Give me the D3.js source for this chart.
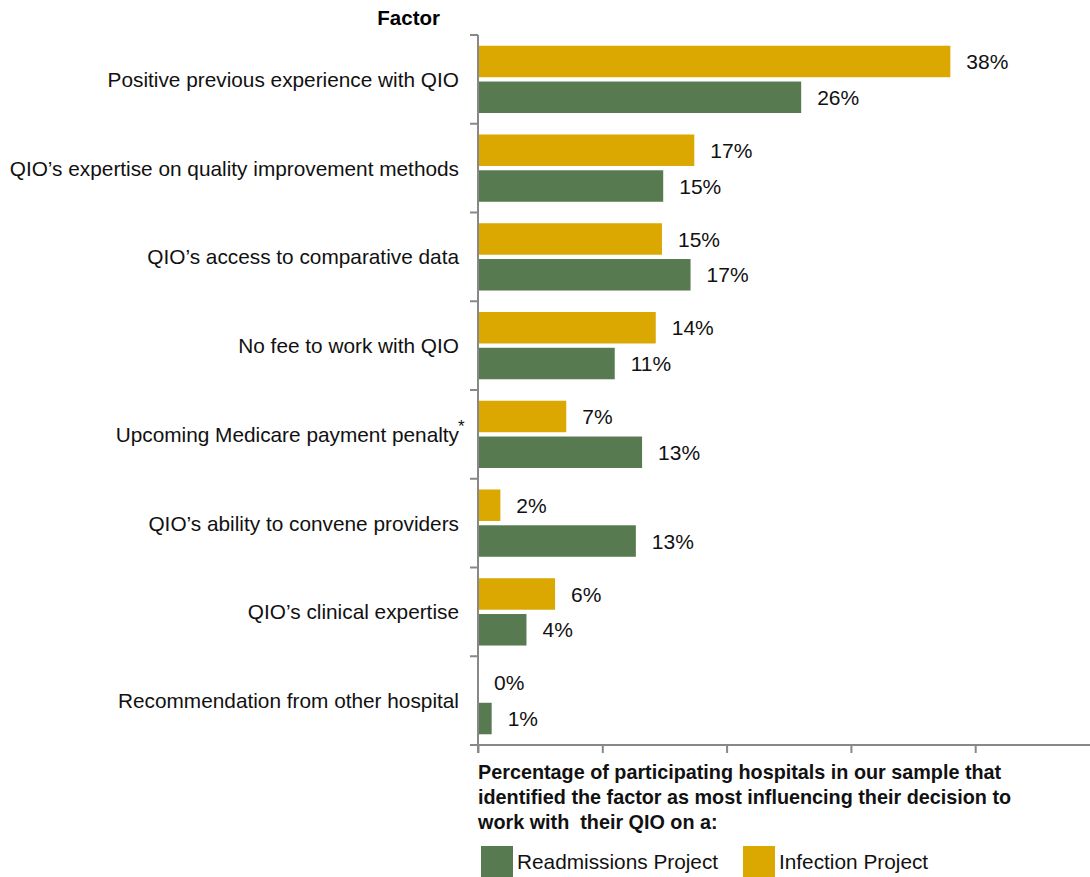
<!DOCTYPE html>
<html>
<head>
<meta charset="utf-8">
<script src="https://cdn.jsdelivr.net/npm/d3@7"></script>
<style>
	body { margin: 0; background: #fff; }
	svg { font-family: "Liberation Sans", Arial, sans-serif; }
	.axis path, .axis line { stroke: #888; stroke-width: 2; }
</style>
</head>
<body>
<div id="chart"></div>
<script>
// data
const factors = [
	'Positive previous experience with QIO',
	'QIO\u2019s expertise on quality improvement methods',
	'QIO\u2019s access to comparative data',
	'No fee to work with QIO',
	'Upcoming Medicare payment penalty',
	'QIO\u2019s ability to convene providers',
	'QIO\u2019s clinical expertise',
	'Recommendation from other hospital'
];
const infection = [38, 17.4, 14.8, 14.3, 7.1, 1.8, 6.2, 0];
const readmissions = [26, 14.9, 17.1, 11, 13.2, 12.7, 3.9, 1.1];
const xTicks = [0, 10, 20, 30, 40];
const seriesNames = ['Readmissions Project', 'Infection Project'];
const colors = { infection: '#daa800', readmissions: '#587a50' };

const width = 1090, height = 877;
const margin = { top: 35, left: 478, bottom: 132 };

const svg = d3.select('#chart').append('svg')
	.attr('width', width)
	.attr('height', height);

const x = d3.scaleLinear()
	.domain([0, 50])
	.range([margin.left, margin.left + 50 * 12.43]);

const y = d3.scaleBand()
	.domain(factors)
	.range([margin.top, height - margin.bottom]);

// bars: infection on top, readmissions below
const inner = d3.scaleBand()
	.domain(['infection', 'readmissions'])
	.range([0, y.bandwidth()])
	.paddingInner(0.12)
	.paddingOuter(0.3);

const rows = factors.map((f, i) => ({
	factor: f,
	infection: infection[i],
	readmissions: readmissions[i]
}));

const g = svg.append('g');
['infection', 'readmissions'].forEach(key => {
	g.selectAll(`rect.${key}`)
		.data(rows)
		.enter().append('rect')
			.attr('class', key)
			.attr('x', x(0))
			.attr('y', d => y(d.factor) + inner(key))
			.attr('width', d => x(d[key]) - x(0))
			.attr('height', inner.bandwidth())
			.attr('fill', colors[key]);

	g.selectAll(`text.${key}`)
		.data(rows)
		.enter().append('text')
			.attr('class', key)
			.attr('x', d => x(d[key]) + 16)
			.attr('y', d => y(d.factor) + inner(key) + inner.bandwidth() / 2)
			.attr('dy', '0.36em')
			.attr('font-size', 21)
			.attr('fill', '#111')
			.text(d => `${d3.format('.0f')(d[key])}%`);
});

// x axis
svg.append('g')
	.attr('class', 'axis')
	.attr('transform', `translate(0, ${height - margin.bottom})`)
	.call(d3.axisBottom(x)
		.tickValues(xTicks)
		.tickSize(8)
		.tickSizeOuter(0)
		.tickFormat(''))
	.call(a => a.select('.domain').attr('d', `M470,0H${width}`));

// y axis with ticks on band boundaries
const yAx = svg.append('g').attr('class', 'axis');
yAx.append('line')
	.attr('x1', margin.left).attr('x2', margin.left)
	.attr('y1', y.range()[0]).attr('y2', y.range()[1] + 8);
yAx.selectAll('line.tick')
	.data(factors.concat(['end']))
	.enter().append('line')
		.attr('class', 'tick')
		.attr('x1', margin.left - 8).attr('x2', margin.left)
		.attr('y1', (d, i) => y.range()[0] + i * y.step())
		.attr('y2', (d, i) => y.range()[0] + i * y.step());

// category labels
svg.append('g')
	.selectAll('text')
	.data(factors)
	.enter().append('text')
		.attr('x', 459)
		.attr('y', d => y(d) + y.bandwidth() / 2)
		.attr('dy', '0.36em')
		.attr('text-anchor', 'end')
		.attr('font-size', 20.8)
		.attr('fill', '#111')
		.text(d => d);

// asterisk on the penalty row
svg.append('text')
	.attr('x', 458)
	.attr('y', y(factors[4]) + y.bandwidth() / 2 - 2)
	.attr('font-size', 17)
	.attr('fill', '#111')
	.text('*');

svg.append('text')
	.attr('x', 440)
	.attr('y', 25)
	.attr('text-anchor', 'end')
	.attr('font-size', 20.5)
	.attr('font-weight', 'bold')
	.text('Factor');

// axis title
const titleLines = [
	'Percentage of participating hospitals in our sample that',
	'identified the factor as most influencing their decision to',
	'work with  their QIO on a:'
];
svg.append('text')
	.attr('font-size', 19.8)
	.attr('font-weight', 'bold')
	.attr('fill', '#111')
	.selectAll('tspan')
	.data(titleLines)
	.enter().append('tspan')
		.attr('x', 478)
		.attr('y', (d, i) => 779 + i * 25)
		.attr('xml:space', 'preserve')
		.style('white-space', 'pre')
		.text(d => d);

// legend
const legend = svg.append('g')
	.selectAll('g')
	.data(seriesNames)
	.enter().append('g')
		.attr('transform', (d, i) => `translate(${i ? 743 : 481}, 846)`);
legend.append('rect')
	.attr('width', 32)
	.attr('height', 31)
	.attr('fill', (d, i) => i ? colors.infection : colors.readmissions);
legend.append('text')
	.attr('x', 36)
	.attr('y', 16)
	.attr('dy', '0.36em')
	.attr('font-size', 20.8)
	.attr('fill', '#111')
	.text(d => d);
</script>
</body>
</html>
